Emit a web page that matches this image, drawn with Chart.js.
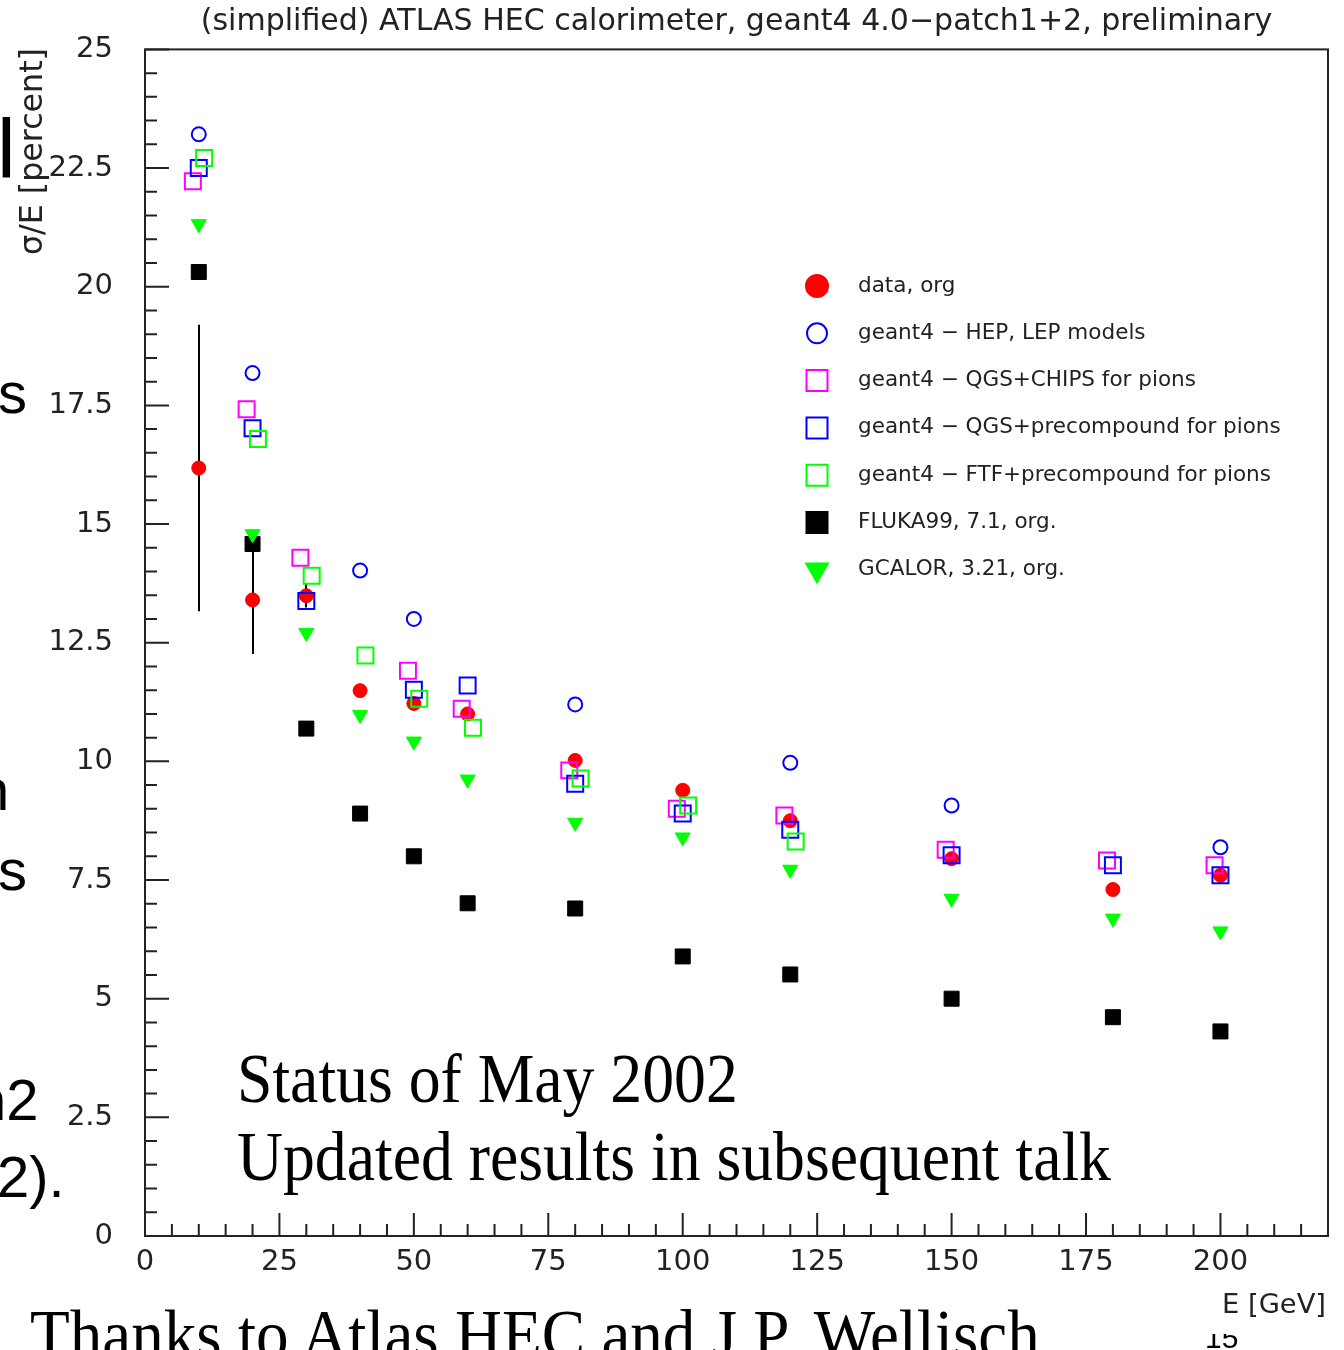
<!DOCTYPE html>
<html lang="en">
<head>
<meta charset="UTF-8">
<title>ATLAS HEC calorimeter resolution</title>
<script src="https://cdn.jsdelivr.net/npm/chart.js"></script>
<style>
  html, body { margin: 0; padding: 0; background: #fff; }
  body { width: 1344px; height: 1350px; overflow: hidden; position: relative; }
  canvas { position: absolute; left: 0; top: 0; }
  .slide { position: absolute; white-space: nowrap; color: #000; line-height: 1; transform-origin: 0 0; pointer-events: none; }
  .serif { font-family: "Liberation Serif", "Times New Roman", serif; font-size: 70px; transform: scaleX(0.91); }
  .sans { font-family: "Liberation Sans", Arial, sans-serif; font-size: 58px; }
  .clip { position: absolute; overflow: hidden; }
</style>
</head>
<body>
<canvas id="chart" width="1344" height="1350"></canvas>

<!-- pieces of the slide around the pasted plot -->
<div class="slide sans" style="left:-3px; top:107px; font-size:84px;">l</div>
<div class="slide sans" style="left:-2px; top:364px;">s</div>
<div class="slide sans" style="left:-23px; top:761px;">n</div>
<div class="slide sans" style="left:-2px; top:841px;">s</div>
<div class="slide sans" style="left:-26px; top:1071px;">n2</div>
<div class="slide sans" style="left:-3px; top:1148px;">2).</div>
<div class="slide serif" style="left:237px; top:1044px;">Status of May 2002</div>
<div class="slide serif" style="left:237px; top:1122px;">Updated results in subsequent talk</div>
<div class="slide serif" style="left:30px; top:1300px; transform: scaleX(0.93);">Thanks to Atlas HEC and J.P. Wellisch</div>
<div class="clip" style="left:1200px; top:1334px; width:50px; height:16px;">
  <div class="slide sans" style="left:5px; top:-11px; font-size:30px;">15</div>
</div>

<script>
  // Energies of the beam points [GeV]; the two square series are drawn slightly shifted
  const energies      = [10, 20, 30, 40, 50, 60, 80, 100, 120, 150, 180, 200];
  const energiesLeft  = [8.9, 18.9, 28.9, 38.9, 48.9, 58.9, 78.9, 98.9, 118.9, 148.9, 178.9, 198.9];
  const energiesRight = [11, 21, 31, 41, 51, 61, 81, 101, 121, 151, 181, 201];

  // sigma/E [percent]
  const dataOrg        = [16.18, 13.40, 13.49, 11.49, 11.22, 11.00, 10.02, 9.39, 8.75, 7.95, 7.30, 7.60];
  const dataOrgErr     = [3.02, 1.14, 0.25, 0.10, 0.10, 0.10, 0.10, 0.10, 0.10, 0.10, 0.10, 0.10];
  const hepLep         = [23.21, 18.18, null, 14.02, 13.00, null, 11.20, null, 9.97, 9.07, null, 8.19];
  const qgsChips       = [22.22, 17.42, 14.29, null, 11.91, 11.11, 9.81, 9.00, 8.86, 8.14, 7.91, 7.81];
  const qgsPrecompound = [22.50, 17.02, 13.38, null, 11.51, 11.60, 9.53, 8.90, 8.56, 8.02, 7.81, 7.60];
  const ftfPrecompound = [22.71, 16.79, 13.91, 12.23, 11.32, 10.71, 9.64, 9.07, 8.31, null, null, null];
  const fluka          = [20.31, 14.58, 10.69, 8.90, 8.00, 7.01, 6.90, 5.89, 5.51, 5.00, 4.61, 4.31];
  const gcalor         = [21.32, 14.79, 12.71, 10.98, 10.42, 9.62, 8.71, 8.40, 7.72, 7.11, 6.69, 6.42];

  const seriesLabels = [
    'data, org',
    'geant4 \u2212 HEP, LEP models',
    'geant4 \u2212 QGS+CHIPS for pions',
    'geant4 \u2212 QGS+precompound for pions',
    'geant4 \u2212 FTF+precompound for pions',
    'FLUKA99, 7.1, org.',
    'GCALOR, 3.21, org.'
  ];

  const xTickValues = [0, 25, 50, 75, 100, 125, 150, 175, 200];
  const yTickValues = [0, 2.5, 5, 7.5, 10, 12.5, 15, 17.5, 20, 22.5, 25];

  const chartTitle = '(simplified) ATLAS HEC calorimeter, geant4 4.0\u2212patch1+2, preliminary';
  const yTitle = '\u03c3/E [percent]';
  const xTitle = 'E [GeV]';

  const FONT = '"DejaVu Sans", "Liberation Sans", sans-serif';
  const TEXT = '#222';

  function pts(xs, ys) {
    return xs.map((x, i) => ({ x: x, y: ys[i] })).filter(p => p.y !== null);
  }

  // legend marker description per series (shape, size, fill, stroke)
  const markers = [
    { shape: 'circle', r: 11, fill: '#ff0000', stroke: '#ff0000' },
    { shape: 'circle', r: 10, fill: null, stroke: '#0000ff' },
    { shape: 'rect', r: 10.5, fill: null, stroke: '#ff00ff' },
    { shape: 'rect', r: 10.5, fill: null, stroke: '#0000ff' },
    { shape: 'rect', r: 10.5, fill: null, stroke: '#00ff00' },
    { shape: 'rect', r: 10.5, fill: '#000000', stroke: '#000000' },
    { shape: 'tri', r: 12.5, fill: '#00ff00', stroke: '#00ff00' }
  ];

  function drawMarker(ctx, m, x, y) {
    ctx.beginPath();
    if (m.shape === 'circle') {
      ctx.arc(x, y, m.r, 0, Math.PI * 2);
    } else if (m.shape === 'rect') {
      ctx.rect(x - m.r, y - m.r, 2 * m.r, 2 * m.r);
    } else {
      const h = m.r * 1.5;
      ctx.moveTo(x - m.r * 0.866, y - h / 3);
      ctx.lineTo(x + m.r * 0.866, y - h / 3);
      ctx.lineTo(x, y + 2 * h / 3);
      ctx.closePath();
    }
    if (m.fill) { ctx.fillStyle = m.fill; ctx.fill(); }
    ctx.strokeStyle = m.stroke; ctx.lineWidth = 2; ctx.stroke();
  }

  // size a font so that the text gets the wanted width
  function fitFont(ctx, text, width) {
    ctx.font = '100px ' + FONT;
    const w = ctx.measureText(text).width;
    return 100 * width / w;
  }

  const rootFrame = {
    id: 'rootFrame',
    beforeDatasetsDraw(chart) {
      const { ctx, chartArea: a, scales: { x, y } } = chart;
      ctx.save();
      ctx.strokeStyle = TEXT;
      ctx.lineWidth = 2;
      ctx.strokeRect(a.left, a.top, a.right - a.left, a.bottom - a.top);
      ctx.beginPath();
      // inward ticks, major every 25 / 2.5, minor every 5 / 0.5
      for (let k = 0; k <= 44; k++) {
        const px = x.getPixelForValue(k * 5);
        const len = k % 5 === 0 ? 23 : 12;
        ctx.moveTo(px, a.bottom); ctx.lineTo(px, a.bottom - len);
      }
      for (let k = 0; k <= 50; k++) {
        const py = y.getPixelForValue(k * 0.5);
        const len = k % 5 === 0 ? 24 : 12;
        ctx.moveTo(a.left, py); ctx.lineTo(a.left + len, py);
      }
      ctx.stroke();
      // error bars of the data
      ctx.strokeStyle = '#000';
      ctx.beginPath();
      energies.forEach((e, i) => {
        const px = Math.round(x.getPixelForValue(e));
        ctx.moveTo(px, y.getPixelForValue(dataOrg[i] + dataOrgErr[i]));
        ctx.lineTo(px, y.getPixelForValue(dataOrg[i] - dataOrgErr[i]));
      });
      ctx.stroke();
      ctx.restore();
    },
    afterDraw(chart) {
      const { ctx, chartArea: a } = chart;
      ctx.save();
      ctx.fillStyle = TEXT;
      // title over the plot
      ctx.font = fitFont(ctx, chartTitle, 1072) + 'px ' + FONT;
      ctx.textAlign = 'center';
      ctx.textBaseline = 'middle';
      ctx.fillText(chartTitle, (a.left + a.right) / 2, 22);
      // x title at the right end
      ctx.font = fitFont(ctx, xTitle, 104) + 'px ' + FONT;
      ctx.textAlign = 'right';
      ctx.fillText(xTitle, a.right - 2, 1306);
      // y title at the top end, rotated
      ctx.save();
      ctx.translate(34, 255);
      ctx.rotate(-Math.PI / 2);
      ctx.font = fitFont(ctx, yTitle, 207) + 'px ' + FONT;
      ctx.textAlign = 'left';
      ctx.fillText(yTitle, 0, 0);
      ctx.restore();
      // legend
      const size = fitFont(ctx, seriesLabels[3], 423);
      ctx.font = size + 'px ' + FONT;
      ctx.textAlign = 'left';
      seriesLabels.forEach((label, i) => {
        const ry = 286 + i * 47.3;
        drawMarker(ctx, markers[i], 817, ry);
        ctx.fillStyle = TEXT;
        ctx.fillText(label, 858, ry);
      });
      ctx.restore();
    }
  };

  const openSq = (color, xs, ys, label, order) => ({
    label: label, data: pts(xs, ys), order: order,
    pointStyle: 'rect', pointRadius: 11.3, pointHoverRadius: 11.3,
    backgroundColor: 'rgba(0,0,0,0)', borderColor: color, borderWidth: 2
  });

  new Chart(document.getElementById('chart'), {
    type: 'scatter',
    data: {
      datasets: [
        { label: seriesLabels[0], data: pts(energies, dataOrg), order: 10,
          pointStyle: 'circle', pointRadius: 7, backgroundColor: '#ff0000', borderColor: '#ff0000', borderWidth: 1 },
        { label: seriesLabels[1], data: pts(energies, hepLep), order: 9,
          pointStyle: 'circle', pointRadius: 7, backgroundColor: 'rgba(0,0,0,0)', borderColor: '#0000ff', borderWidth: 2 },
        openSq('#ff00ff', energiesLeft, qgsChips, seriesLabels[2], 8),
        openSq('#0000ff', energies, qgsPrecompound, seriesLabels[3], 7),
        openSq('#00ff00', energiesRight, ftfPrecompound, seriesLabels[4], 6),
        { label: seriesLabels[5], data: pts(energies, fluka), order: 5,
          pointStyle: 'rect', pointRadius: 10.6, backgroundColor: '#000', borderColor: '#000', borderWidth: 1 },
        { label: seriesLabels[6], data: pts(energies, gcalor), order: 4,
          pointStyle: 'triangle', rotation: 180, pointRadius: 8.7, backgroundColor: '#00ff00', borderColor: '#00ff00', borderWidth: 1 }
      ]
    },
    options: {
      responsive: false,
      animation: false,
      events: [],
      layout: { padding: { top: 48, left: 0, right: 16, bottom: 54 } },
      plugins: { legend: { display: false }, tooltip: { enabled: false } },
      scales: {
        x: {
          type: 'linear', min: 0, max: 220,
          afterBuildTicks: s => { s.ticks = xTickValues.map(v => ({ value: v })); },
          afterFit: s => { s.height = 60; },
          grid: { display: false, drawTicks: false },
          border: { display: false },
          ticks: { font: { family: FONT, size: 29 }, color: TEXT, padding: 9, maxRotation: 0, autoSkip: false }
        },
        y: {
          type: 'linear', min: 0, max: 25,
          afterBuildTicks: s => { s.ticks = yTickValues.map(v => ({ value: v })); },
          afterFit: s => { s.width = 145; },
          grid: { display: false, drawTicks: false },
          border: { display: false },
          ticks: { font: { family: FONT, size: 29 }, color: TEXT, padding: 32, autoSkip: false }
        }
      }
    },
    plugins: [rootFrame]
  });
</script>
</body>
</html>
